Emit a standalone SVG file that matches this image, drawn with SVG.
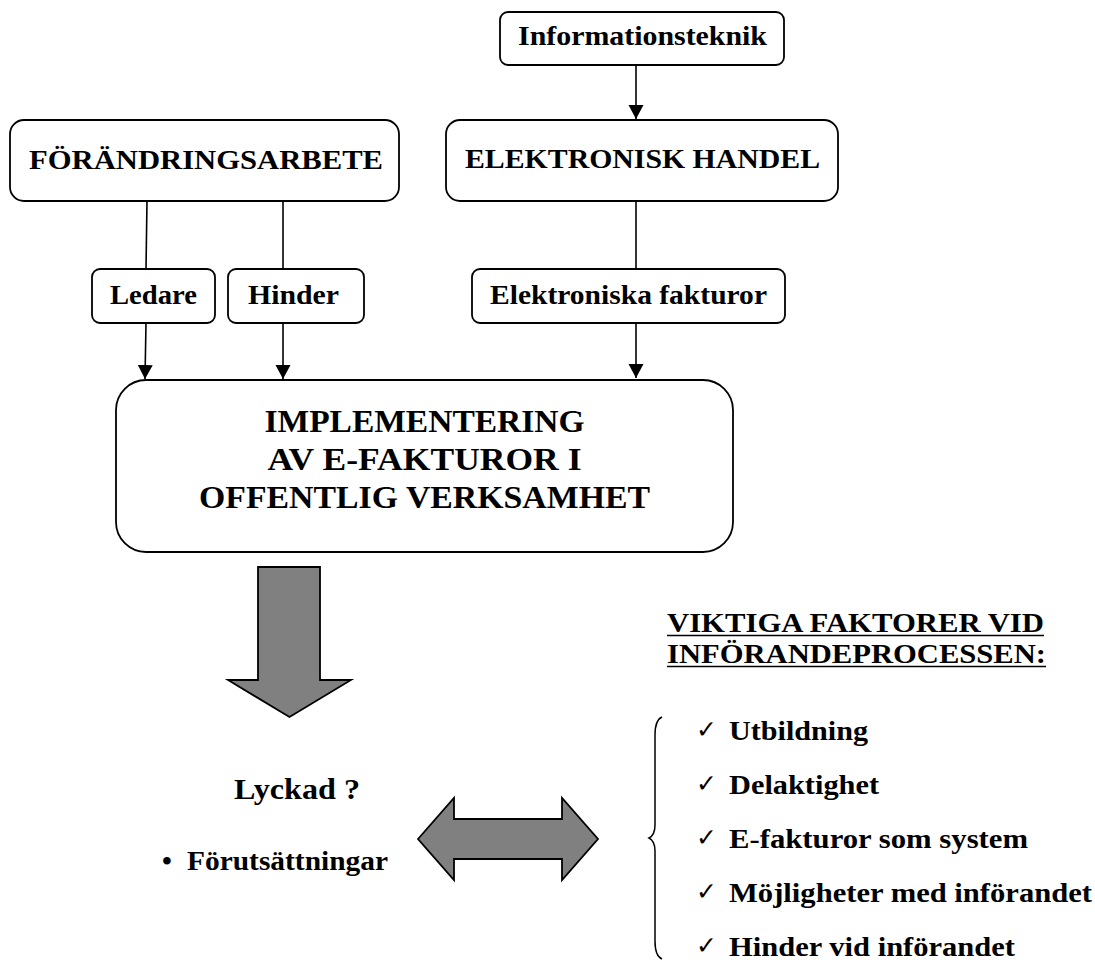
<svg xmlns="http://www.w3.org/2000/svg" width="1095" height="960" viewBox="0 0 1095 960">
<style>
  .box { fill: #ffffff; stroke: #000000; stroke-width: 1.8; }
  .t { font-family: "Liberation Serif", "Times New Roman", serif; font-weight: bold; fill: #000000; text-anchor: middle; }
  .tl { font-family: "Liberation Serif", "Times New Roman", serif; font-weight: bold; fill: #000000; }
  .chk { font-family: "DejaVu Sans", sans-serif; fill: #000000; font-size: 25px; }
  .conn { stroke: #000000; stroke-width: 1.6; fill: none; }
  .blk { fill: #808080; stroke: #000000; stroke-width: 1.8; stroke-linejoin: miter; }
</style>
<defs>
  <marker id="ah" markerUnits="userSpaceOnUse" markerWidth="16" markerHeight="16" refX="14" refY="7.5" orient="auto">
    <path d="M0,0 L14,7.5 L0,15 z" fill="#000000"/>
  </marker>
</defs>
<rect width="1095" height="960" fill="#ffffff"/>

<g id="connectors">
  <line class="conn" x1="636" y1="65" x2="636" y2="119" marker-end="url(#ah)"/>
  <line class="conn" x1="147" y1="200" x2="146" y2="269"/>
  <line class="conn" x1="283" y1="200" x2="283" y2="269"/>
  <line class="conn" x1="636" y1="201" x2="636" y2="269"/>
  <line class="conn" x1="146" y1="323" x2="145" y2="379" marker-end="url(#ah)"/>
  <line class="conn" x1="283" y1="323" x2="283" y2="379" marker-end="url(#ah)"/>
  <line class="conn" x1="636" y1="323" x2="636" y2="378" marker-end="url(#ah)"/>
</g>

<g id="informationsteknik">
  <rect class="box" x="500" y="12" width="284" height="53" rx="8"/>
  <text class="t" x="642.5" y="45" font-size="28" textLength="249" lengthAdjust="spacingAndGlyphs">Informationsteknik</text>
</g>

<g id="forandringsarbete">
  <rect class="box" x="10" y="120" width="389" height="81" rx="14"/>
  <text class="t" x="206" y="169" font-size="28" textLength="354" lengthAdjust="spacingAndGlyphs">FÖRÄNDRINGSARBETE</text>
</g>

<g id="elektronisk-handel">
  <rect class="box" x="446" y="120" width="392" height="81" rx="14"/>
  <text class="t" x="642.5" y="168" font-size="28" textLength="355" lengthAdjust="spacingAndGlyphs">ELEKTRONISK HANDEL</text>
</g>

<g id="ledare">
  <rect class="box" x="92" y="269" width="123" height="54" rx="8"/>
  <text class="t" x="153.5" y="304" font-size="28" textLength="87" lengthAdjust="spacingAndGlyphs">Ledare</text>
</g>

<g id="hinder">
  <rect class="box" x="228" y="269" width="136" height="54" rx="8"/>
  <text class="t" x="293.5" y="304" font-size="28" textLength="91" lengthAdjust="spacingAndGlyphs">Hinder</text>
</g>

<g id="elektroniska-fakturor">
  <rect class="box" x="472" y="269" width="313" height="54" rx="8"/>
  <text class="t" x="628.5" y="304" font-size="28" textLength="277" lengthAdjust="spacingAndGlyphs">Elektroniska fakturor</text>
</g>

<g id="implementering">
  <rect class="box" x="116" y="380" width="617" height="172" rx="30"/>
  <text class="t" x="424.5" y="432" font-size="32" textLength="320" lengthAdjust="spacingAndGlyphs">IMPLEMENTERING</text>
  <text class="t" x="424.5" y="470" font-size="32" textLength="314" lengthAdjust="spacingAndGlyphs">AV E-FAKTUROR I</text>
  <text class="t" x="424.5" y="508" font-size="32" textLength="451" lengthAdjust="spacingAndGlyphs">OFFENTLIG VERKSAMHET</text>
</g>

<g id="down-arrow">
  <polygon class="blk" points="258,567 320,567 320,680 351,680 289.5,717 228,680 258,680"/>
</g>

<g id="lyckad">
  <text class="t" x="297" y="799" font-size="30" textLength="126" lengthAdjust="spacingAndGlyphs">Lyckad ?</text>
  <text class="tl" x="162" y="870" font-size="28">•</text>
  <text class="tl" x="187" y="870" font-size="28" textLength="201" lengthAdjust="spacingAndGlyphs">Förutsättningar</text>
</g>

<g id="double-arrow">
  <polygon class="blk" points="418,839 454,798 454,819 562,819 562,798 598,839 562,880 562,859 454,859 454,880"/>
</g>

<g id="viktiga-faktorer">
  <text class="tl" x="667" y="632" font-size="28" textLength="377" lengthAdjust="spacingAndGlyphs">VIKTIGA FAKTORER VID</text>
  <line x1="667" y1="635.5" x2="1044" y2="635.5" stroke="#000" stroke-width="1.5"/>
  <text class="tl" x="667" y="663" font-size="28" textLength="379" lengthAdjust="spacingAndGlyphs">INFÖRANDEPROCESSEN:</text>
  <line x1="667" y1="666.5" x2="1046" y2="666.5" stroke="#000" stroke-width="1.5"/>
</g>

<g id="factor-list">
  <path d="M662,717 Q655,720 655,735 L655,825 Q655,835 649,838 Q655,841 655,851 L655,941 Q655,956 662,959" fill="none" stroke="#000" stroke-width="1.5"/>
  <text class="chk" x="696" y="738">✓</text>
  <text class="tl" x="729" y="740" font-size="28" textLength="139" lengthAdjust="spacingAndGlyphs">Utbildning</text>
  <text class="chk" x="696" y="792">✓</text>
  <text class="tl" x="729" y="794" font-size="28" textLength="150" lengthAdjust="spacingAndGlyphs">Delaktighet</text>
  <text class="chk" x="696" y="846">✓</text>
  <text class="tl" x="729" y="848" font-size="28" textLength="299" lengthAdjust="spacingAndGlyphs">E-fakturor som system</text>
  <text class="chk" x="696" y="900">✓</text>
  <text class="tl" x="729" y="902" font-size="28" textLength="363" lengthAdjust="spacingAndGlyphs">Möjligheter med införandet</text>
  <text class="chk" x="696" y="954">✓</text>
  <text class="tl" x="729" y="956" font-size="28" textLength="286" lengthAdjust="spacingAndGlyphs">Hinder vid införandet</text>
</g>
</svg>
